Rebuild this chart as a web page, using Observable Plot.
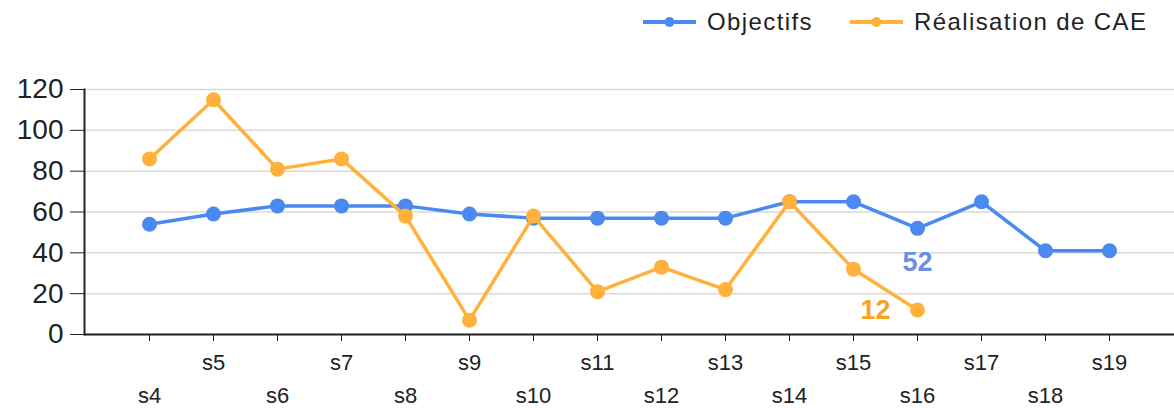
<!DOCTYPE html>
<html>
<head>
<meta charset="utf-8">
<script src="https://cdn.jsdelivr.net/npm/d3@7"></script>
<script src="https://cdn.jsdelivr.net/npm/@observablehq/plot@0.6"></script>
<style>
  body { margin: 0; background: #fff; font-family: "Liberation Sans", Arial, sans-serif; }
  #wrap { position: relative; width: 1174px; height: 408px; overflow: hidden; }
  #legend { position: absolute; top: 7px; left: 0; width: 1174px; height: 30px; font-size: 24px; letter-spacing: 1.4px; color: #222; }
  .item { position: absolute; top: 0; display: flex; align-items: center; height: 30px; }
  .item svg { margin-right: 11px; }
</style>
</head>
<body>
<div id="wrap">
  <div id="chart"></div>
  <div id="legend"></div>
</div>
<script>
const categories = ["s4","s5","s6","s7","s8","s9","s10","s11","s12","s13","s14","s15","s16","s17","s18","s19"];
const objectifs = [54, 59, 63, 63, 63, 59, 57, 57, 57, 57, 65, 65, 52, 65, 41, 41];
const realisation = [86, 115, 81, 86, 58, 7, 58, 21, 33, 22, 65, 32, 12];
const yTicks = [0, 20, 40, 60, 80, 100, 120];
const seriesNames = ["Objectifs", "Réalisation de CAE"];
const colors = ["#4a8af0", "#ffb13b"];

const rowsObj = categories.map((c, i) => ({cat: c, v: objectifs[i]}));
const rowsReal = realisation.map((v, i) => ({cat: categories[i], v}));
const oddCats = categories.filter((c, i) => i % 2 === 1);
const evenCats = categories.filter((c, i) => i % 2 === 0);
const lastObj = rowsObj[12];
const lastReal = rowsReal[rowsReal.length - 1];

const chart = Plot.plot({
  width: 1174,
  height: 408,
  marginTop: 89,
  marginBottom: 74,
  marginLeft: 84,
  marginRight: 0,
  style: {fontFamily: "Liberation Sans, Arial, sans-serif", color: "#222", background: "#fff"},
  x: {type: "point", domain: categories, padding: 1, label: null},
  y: {domain: [0, 120], label: null},
  marks: [
    Plot.gridY(yTicks, {stroke: "#d9d9d9", strokeOpacity: 1, strokeWidth: 1.5}),
    Plot.axisY(yTicks, {tickSize: 14, tickPadding: 7, fontSize: 28, stroke: "#222", color: "#222", label: null}),
    Plot.frame({anchor: "left", stroke: "#222", strokeWidth: 2}),
    Plot.ruleY([0], {stroke: "#222", strokeWidth: 2}),
    Plot.axisX({tickSize: 7, tickFormat: () => "", stroke: "#222", label: null}),
    Plot.axisX(oddCats, {tickSize: 0, tickPadding: 20, fontSize: 22, color: "#222", label: null, style: {letterSpacing: "1px"}}),
    Plot.axisX(evenCats, {tickSize: 0, tickPadding: 53, fontSize: 22, color: "#222", label: null, style: {letterSpacing: "1px"}}),
    Plot.line(rowsObj, {x: "cat", y: "v", stroke: colors[0], strokeWidth: 3.5}),
    Plot.dot(rowsObj, {x: "cat", y: "v", fill: colors[0], r: 7.5}),
    Plot.line(rowsReal, {x: "cat", y: "v", stroke: colors[1], strokeWidth: 3.5}),
    Plot.dot(rowsReal, {x: "cat", y: "v", fill: colors[1], r: 7.5}),
    Plot.text([lastObj], {x: "cat", y: "v", text: d => String(d.v), dy: 34, fill: "#6b8fe6", fontSize: 27, fontWeight: "bold"}),
    Plot.text([lastReal], {x: "cat", y: "v", text: d => String(d.v), dx: -27, textAnchor: "end", fill: "#f7a421", fontSize: 27, fontWeight: "bold"})
  ]
});
document.getElementById("chart").appendChild(chart);

const legend = document.getElementById("legend");
const lefts = [643, 850];
seriesNames.forEach((name, i) => {
  const item = document.createElement("div");
  item.className = "item";
  item.style.left = lefts[i] + "px";
  item.innerHTML = `<svg width="53" height="14"><line x1="0" y1="7" x2="53" y2="7" stroke="${colors[i]}" stroke-width="4"/><circle cx="26.5" cy="7" r="5" fill="${colors[i]}"/></svg><span>${name}</span>`;
  legend.appendChild(item);
});
</script>
</body>
</html>
